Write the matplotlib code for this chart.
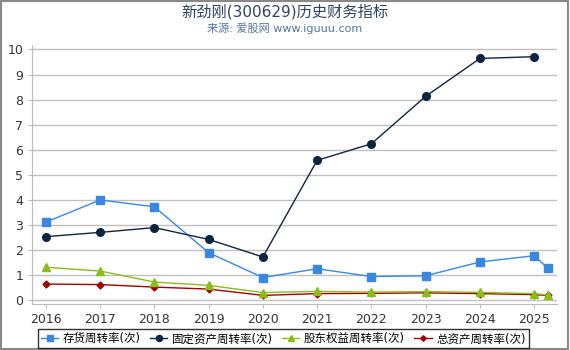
import matplotlib
matplotlib.use('Agg')
from matplotlib import pyplot as plt, patches
import numpy as np

plt.rcParams['font.family'] = ['DejaVu Sans', 'Noto Sans CJK SC']

# 数据
x_pos = [2016, 2017, 2018, 2019, 2020, 2021, 2022, 2023, 2024, 2025, 2025.25]
year_ticks = [2016, 2017, 2018, 2019, 2020, 2021, 2022, 2023, 2024, 2025]
inventory = [3.12, 4.0, 3.73, 1.9, 0.91, 1.26, 0.95, 0.98, 1.53, 1.78, 1.29]
fixed_assets = [2.54, 2.71, 2.9, 2.43, 1.73, 5.58, 6.24, 8.13, 9.64, 9.71, np.nan]
equity = [1.32, 1.17, 0.73, 0.6, 0.31, 0.36, 0.33, 0.35, 0.32, 0.27, 0.21]
total_assets = [0.65, 0.63, 0.53, 0.45, 0.2, 0.27, 0.28, 0.3, 0.27, 0.23, 0.2]
names = ['存货周转率(次)', '固定资产周转率(次)', '股东权益周转率(次)', '总资产周转率(次)']

fig = plt.figure(figsize=(5.7, 3.5), dpi=100)
ax = fig.add_axes([0.0567, 0.131, 0.9213, 0.74])

ax.plot(x_pos, inventory, color='#3a87e0', lw=1, marker='s', ms=5.5, label=names[0], zorder=3)
ax.plot(x_pos, fixed_assets, color='#0f2440', lw=1, marker='o', ms=5.5, label=names[1], zorder=4)
ax.plot(x_pos, equity, color='#8cbb1c', lw=1, marker='^', ms=5.5, label=names[2], zorder=3)
ax.plot(x_pos, total_assets, color='#a00000', lw=1, marker='D', ms=3.5, label=names[3], zorder=2)

ax.set_xlim(2015.75, 2025.43)
ax.set_ylim(-0.15, 10.17)
ax.set_xticks(year_ticks)
ax.set_yticks(range(0, 11))
ax.tick_params(labelsize=9, colors='#333333', length=3, width=0.8)
ax.tick_params(axis='both', color='#bbbbbb')
ax.grid(axis='y', color='#c0c0c0', lw=1)
ax.set_axisbelow(True)

ax.spines['right'].set_color('none')
ax.spines['top'].set_color('none')
ax.spines['left'].set_color('#bbbbbb')
ax.spines['bottom'].set_color('#bbbbbb')

fig.text(0.5, 0.966, '新劲刚(300629)历史财务指标', ha='center', va='center',
         fontsize=11, color='#2f4260')
fig.text(0.5, 0.918, '来源: 爱股网 www.iguuu.com', ha='center', va='center',
         fontsize=8, color='#5575a0')

leg = fig.legend(loc='center', bbox_to_anchor=(0.497, 0.032), ncol=4, fontsize=8.3,
                 frameon=True, fancybox=False, handlelength=1.5, handletextpad=0.4,
                 columnspacing=0.8, borderpad=0.25, markerscale=0.8)
leg.get_frame().set_edgecolor('black')
leg.get_frame().set_linewidth(1)

fig.add_artist(patches.Rectangle((0.001, 0.003), 0.995, 0.995, transform=fig.transFigure,
                                 fill=False, edgecolor='#888888', lw=1.5))

fig.savefig('out.png', dpi=100)
